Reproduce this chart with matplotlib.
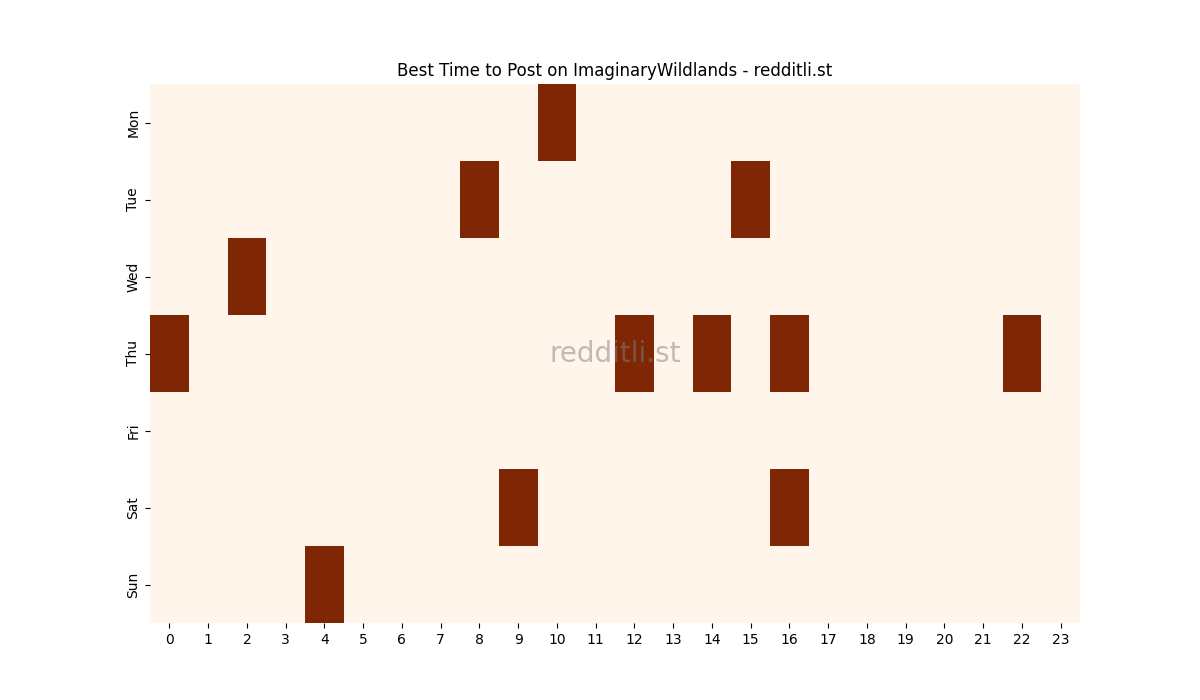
import numpy as np
import matplotlib
matplotlib.use("Agg")
import matplotlib.pyplot as plt

# Days and hours of the heatmap
days = ["Mon", "Tue", "Wed", "Thu", "Fri", "Sat", "Sun"]
hours = list(range(24))

# Best hours per day (cells marked as 1)
mon_hours = [10]
tue_hours = [8, 15]
wed_hours = [2]
thu_hours = [0, 12, 14, 16, 22]
fri_hours = []
sat_hours = [9, 16]
sun_hours = [4]

best = [mon_hours, tue_hours, wed_hours, thu_hours, fri_hours, sat_hours, sun_hours]

grid = np.zeros((len(days), len(hours)))
for i, hrs in enumerate(best):
    for h in hrs:
        grid[i, h] = 1

fig, ax = plt.subplots(figsize=(12, 7), dpi=100)
ax.pcolormesh(grid, cmap="Oranges", vmin=0, vmax=1)
ax.set_xlim(0, len(hours))
ax.set_ylim(len(days), 0)

ax.set_xticks(np.arange(len(hours)) + 0.5)
ax.set_xticklabels([str(h) for h in hours])
ax.set_yticks(np.arange(len(days)) + 0.5)
ax.set_yticklabels(days, rotation=90, va="center")

for s in ax.spines.values():
    s.set_visible(False)

ax.set_title("Best Time to Post on ImaginaryWildlands - redditli.st")
ax.text(0.5, 0.5, "redditli.st", transform=ax.transAxes, ha="center", va="center",
        fontsize=20, color="gray", alpha=0.5)

fig.savefig("out.png")
